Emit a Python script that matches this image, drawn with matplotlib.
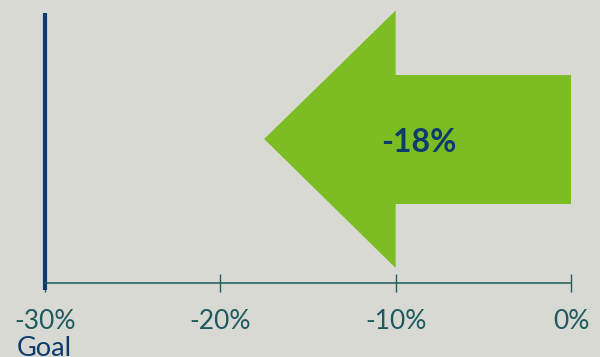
import matplotlib
matplotlib.use("Agg")
import matplotlib.pyplot as plt
from matplotlib.patches import Polygon

# data
ticks = [-30, -20, -10, 0]
tick_labels = ['-30%', '-20%', '-10%', '0%']
goal = -30
change = -18
change_label = '-18%'
arrow_tip = -17.5   # where the drawn arrow head ends
arrow_neck = -10

bg = '#d9d9d4'
green = '#7bbd23'
navy = '#0d3b6b'
teal = '#1e5a5e'

plt.rcParams['font.family'] = ['Lato', 'DejaVu Sans']

W, H = 600, 357
fig = plt.figure(figsize=(W / 100, H / 100), dpi=100, facecolor=bg)
# axes spans x from -30 (45px) to 0 (571px), y in pixels from top down to axis line
ax = fig.add_axes([45 / W, (H - 282.7) / H, (571 - 45) / W, 282.7 / H])
ax.set_facecolor(bg)
ax.set_xlim(-30, 0)
ax.set_ylim(282.7, 0)

# arrow shape
pts = [(0, 75), (arrow_neck, 75), (arrow_neck, 10.5), (arrow_tip, 139),
       (arrow_neck, 268), (arrow_neck, 204), (0, 204)]
ax.add_patch(Polygon(pts, closed=True, facecolor=green, edgecolor='none'))
ax.text(-8.7, 142, change_label, color=navy, fontsize=23,
        fontweight='bold', ha='center', va='center')

# goal line
ax.plot([goal, goal], [13, 290], color=navy, linewidth=3, clip_on=False, solid_capstyle='butt')

for s in ['top', 'right', 'left']:
    ax.spines[s].set_visible(False)
ax.spines['bottom'].set_color(teal)
ax.spines['bottom'].set_linewidth(1.1)
ax.set_yticks([])
ax.set_xticks(ticks)
ax.set_xticklabels(tick_labels)
ax.tick_params(axis='x', direction='inout', length=13, width=1, color=teal,
               labelcolor=teal, labelsize=19, pad=12.5)

fig.text(17 / W, 1 - 349 / H, 'Goal', color=navy, fontsize=19.5, ha='left', va='center')

fig.savefig('out.png', dpi=100, facecolor=bg)
